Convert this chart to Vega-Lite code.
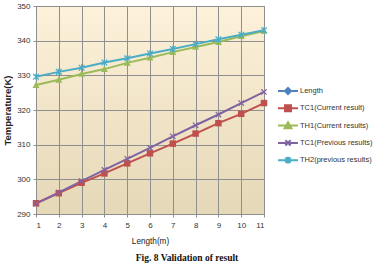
{
  "$schema": "https://vega.github.io/schema/vega-lite/v6.json",
  "width": 228,
  "height": 208,
  "autosize": {"type": "none"},
  "padding": {"left": 36, "top": 6, "right": 114, "bottom": 50},
  "background": "white",
  "config": {
    "view": {
      "stroke": "#8f8f8f",
      "fill": {"gradient": "linear", "x1": 0, "y1": 0, "x2": 0, "y2": 1,
        "stops": [{"offset": 0, "color": "#fdf1da"}, {"offset": 1, "color": "#e5d8b7"}]}
    },
    "font": "Liberation Sans",
    "axis": {
      "gridColor": "#8f8f8f", "gridOpacity": 1, "gridWidth": 1,
      "domainColor": "#8f8f8f", "tickColor": "#8f8f8f", "tickSize": 3,
      "labelFont": "Liberation Sans", "labelFontSize": 8, "labelColor": "#333333",
      "titleFont": "Liberation Sans", "titleColor": "#222222"
    }
  },
  "title": {
    "text": "Fig. 8 Validation of result",
    "orient": "bottom", "anchor": "middle", "dx": 37, "offset": 9,
    "font": "Liberation Serif", "fontWeight": "bold", "fontSize": 9.5, "color": "#111111"
  },
  "data": {"values": [
    {"x": 1, "s": "TC1(Current result)", "t": 293.1},
    {"x": 2, "s": "TC1(Current result)", "t": 296.0},
    {"x": 3, "s": "TC1(Current result)", "t": 299.0},
    {"x": 4, "s": "TC1(Current result)", "t": 301.7},
    {"x": 5, "s": "TC1(Current result)", "t": 304.6},
    {"x": 6, "s": "TC1(Current result)", "t": 307.5},
    {"x": 7, "s": "TC1(Current result)", "t": 310.3},
    {"x": 8, "s": "TC1(Current result)", "t": 313.2},
    {"x": 9, "s": "TC1(Current result)", "t": 316.2},
    {"x": 10, "s": "TC1(Current result)", "t": 318.9},
    {"x": 11, "s": "TC1(Current result)", "t": 322.0},
    {"x": 1, "s": "TH1(Current results)", "t": 327.2},
    {"x": 2, "s": "TH1(Current results)", "t": 328.7},
    {"x": 3, "s": "TH1(Current results)", "t": 330.4},
    {"x": 4, "s": "TH1(Current results)", "t": 331.8},
    {"x": 5, "s": "TH1(Current results)", "t": 333.6},
    {"x": 6, "s": "TH1(Current results)", "t": 335.1},
    {"x": 7, "s": "TH1(Current results)", "t": 336.7},
    {"x": 8, "s": "TH1(Current results)", "t": 338.2},
    {"x": 9, "s": "TH1(Current results)", "t": 339.6},
    {"x": 10, "s": "TH1(Current results)", "t": 341.3},
    {"x": 11, "s": "TH1(Current results)", "t": 342.8},
    {"x": 1, "s": "TC1(Previous results)", "t": 293.0},
    {"x": 2, "s": "TC1(Previous results)", "t": 296.2},
    {"x": 3, "s": "TC1(Previous results)", "t": 299.5},
    {"x": 4, "s": "TC1(Previous results)", "t": 302.7},
    {"x": 5, "s": "TC1(Previous results)", "t": 305.9},
    {"x": 6, "s": "TC1(Previous results)", "t": 309.1},
    {"x": 7, "s": "TC1(Previous results)", "t": 312.4},
    {"x": 8, "s": "TC1(Previous results)", "t": 315.6},
    {"x": 9, "s": "TC1(Previous results)", "t": 318.7},
    {"x": 10, "s": "TC1(Previous results)", "t": 322.0},
    {"x": 11, "s": "TC1(Previous results)", "t": 325.2},
    {"x": 1, "s": "TH2(previous results)", "t": 329.6},
    {"x": 2, "s": "TH2(previous results)", "t": 331.0},
    {"x": 3, "s": "TH2(previous results)", "t": 332.2},
    {"x": 4, "s": "TH2(previous results)", "t": 333.7},
    {"x": 5, "s": "TH2(previous results)", "t": 334.9},
    {"x": 6, "s": "TH2(previous results)", "t": 336.3},
    {"x": 7, "s": "TH2(previous results)", "t": 337.6},
    {"x": 8, "s": "TH2(previous results)", "t": 339.0},
    {"x": 9, "s": "TH2(previous results)", "t": 340.4},
    {"x": 10, "s": "TH2(previous results)", "t": 341.7},
    {"x": 11, "s": "TH2(previous results)", "t": 343.0}
  ]},
  "encoding": {
    "x": {"field": "x", "type": "quantitative",
      "scale": {"domain": [1, 11], "nice": false, "zero": false},
      "axis": {"values": [1,2,3,4,5,6,7,8,9,10,11], "format": "d", "title": "Length(m)", "titleFontSize": 8.2, "titleFontWeight": "normal", "labelPadding": 4, "titlePadding": 8}},
    "y": {"field": "t", "type": "quantitative",
      "scale": {"domain": [290, 350], "nice": false, "zero": false},
      "axis": {"values": [290,300,310,320,330,340,350], "title": "Temperature(K)", "titleFontSize": 9.5, "titleFontWeight": "bold", "labelPadding": 3, "titlePadding": 4}},
    "color": {"field": "s", "type": "nominal",
      "scale": {"domain": ["Length", "TC1(Current result)", "TH1(Current results)", "TC1(Previous results)", "TH2(previous results)"],
        "range": ["#4f81bd", "#c0504d", "#9bbb59", "#8064a2", "#4bacc6"]},
      "legend": {
        "title": null, "orient": "none", "legendX": 243.5, "legendY": 76.5,
        "symbolType": "circle", "symbolSize": 225, "symbolStrokeWidth": 2, "labelOffset": 3.5, "rowPadding": 1.3,
        "labelFont": "Liberation Sans", "labelFontSize": 7.5, "labelColor": "#333333",
        "encode": {"symbols": {"update": {
          "shape": {"signal": "datum.value === 'Length' ? 'M-1.33,0H1.33M0,-0.4L0.4,0L0,0.4L-0.4,0Z' : datum.value === 'TC1(Current result)' ? 'M-1.33,0H1.33M-0.4,-0.4H0.4V0.4H-0.4Z' : datum.value === 'TH1(Current results)' ? 'M-1.33,0H1.33M0,-0.45L0.45,0.35H-0.45Z' : datum.value === 'TC1(Previous results)' ? 'M-1.33,0H1.33M-0.35,-0.35L0.35,0.35M-0.35,0.35L0.35,-0.35' : 'M-1.33,0H1.33M-0.35,-0.35L0.35,0.35M-0.35,0.35L0.35,-0.35M0,-0.45V0.45'"},
          "fill": {"signal": "scale('color', datum.value)"},
          "stroke": {"signal": "scale('color', datum.value)"},
          "strokeWidth": {"value": 2},
          "opacity": {"value": 1}
        }}}
      }}
  },
  "layer": [
    {"mark": {"type": "line", "strokeWidth": 2}},
    {"transform": [{"filter": "datum.s === 'TC1(Current result)'"}],
      "mark": {"type": "point", "filled": true, "opacity": 1, "size": 42, "shape": "square"}},
    {"transform": [{"filter": "datum.s === 'TH1(Current results)'"}],
      "mark": {"type": "point", "filled": true, "opacity": 1, "size": 40, "shape": "M0,-1.1L1.1,0.9H-1.1Z"}},
    {"transform": [{"filter": "datum.s === 'TC1(Previous results)'"}],
      "mark": {"type": "point", "filled": false, "opacity": 1, "size": 36, "strokeWidth": 1.2, "shape": "M-0.9,-0.9L0.9,0.9M-0.9,0.9L0.9,-0.9"}},
    {"transform": [{"filter": "datum.s === 'TH2(previous results)'"}],
      "mark": {"type": "point", "filled": false, "opacity": 1, "size": 40, "strokeWidth": 1.2, "shape": "M-0.9,-0.9L0.9,0.9M-0.9,0.9L0.9,-0.9M0,-1.1V1.1"}}
  ]
}
